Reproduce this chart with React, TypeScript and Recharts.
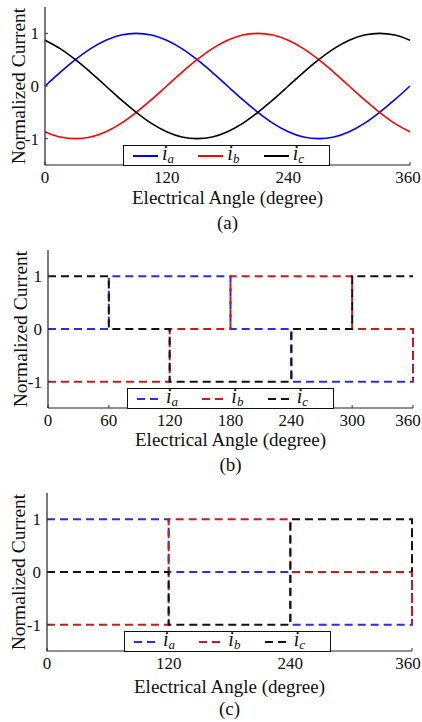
import React from 'react'
import { LineChart, Line, XAxis, YAxis, Legend } from 'recharts'

// (a) sinusoidal phase currents, read every 15 degrees
const sineAngles = [0, 15, 30, 45, 60, 75, 90, 105, 120, 135, 150, 165, 180, 195, 210, 225, 240, 255, 270, 285, 300, 315, 330, 345, 360]
const sineA = [0, 0.26, 0.5, 0.71, 0.87, 0.97, 1, 0.97, 0.87, 0.71, 0.5, 0.26, 0, -0.26, -0.5, -0.71, -0.87, -0.97, -1, -0.97, -0.87, -0.71, -0.5, -0.26, 0]
const sineB = [-0.87, -0.97, -1, -0.97, -0.87, -0.71, -0.5, -0.26, 0, 0.26, 0.5, 0.71, 0.87, 0.97, 1, 0.97, 0.87, 0.71, 0.5, 0.26, 0, -0.26, -0.5, -0.71, -0.87]
const sineC = [0.87, 0.71, 0.5, 0.26, 0, -0.26, -0.5, -0.71, -0.87, -0.97, -1, -0.97, -0.87, -0.71, -0.5, -0.26, 0, 0.26, 0.5, 0.71, 0.87, 0.97, 1, 0.97, 0.87]

// (b) 120-degree conduction steps
const sixStepAngles = [0, 60, 120, 180, 240, 300, 360]
const sixStepA = [0, 1, 1, 0, -1, -1, 0]
const sixStepB = [-1, -1, 0, 1, 1, 0, -1]
const sixStepC = [1, 0, -1, -1, 0, 1, 1]

// (c) block currents
const blockAngles = [0, 120, 240, 360]
const blockA = [1, 0, -1, 1]
const blockB = [-1, 1, 0, -1]
const blockC = [0, -1, 1, 0]

const yTicks = [-1, 0, 1]
const ticksThirds = [0, 120, 240, 360]
const ticksSixths = [0, 60, 120, 180, 240, 300, 360]

const SERIF = '"Liberation Serif", "Times New Roman", serif'

type Series = { key: string; sub: string; color: string }

const solidSeries: Series[] = [
  { key: 'ia', sub: 'a', color: '#0000ff' },
  { key: 'ib', sub: 'b', color: '#ff0000' },
  { key: 'ic', sub: 'c', color: '#000000' },
]
const dashedSeries: Series[] = [
  { key: 'ia', sub: 'a', color: '#2b2bf0' },
  { key: 'ib', sub: 'b', color: '#cc1a1a' },
  { key: 'ic', sub: 'c', color: '#111111' },
]

function buildRows(angles: number[], a: number[], b: number[], c: number[]) {
  return angles.map((angle, i) => ({ angle, ia: a[i], ib: b[i], ic: c[i] }))
}

// keeps the last label ("360") inside the page like the original
function AngleTick({ x, y, payload }: any) {
  const cx = Math.min(x, 408)
  return (
    <text x={cx} y={y} dy="0.71em" textAnchor="middle" fontFamily={SERIF} fontSize={17} fill="#111">
      {payload.value}
    </text>
  )
}

function LegendBox({ series, dashed, width }: { series: Series[]; dashed: boolean; width: number }) {
  return (
    <div
      style={{
        width,
        height: 21,
        boxSizing: 'border-box',
        border: '1.5px solid #111',
        background: '#fff',
        display: 'flex',
        alignItems: 'center',
        paddingLeft: 9,
        fontFamily: SERIF,
      }}
    >
      {series.map((s) => (
        <div key={s.key} style={{ display: 'flex', alignItems: 'center', width: 70 }}>
          <svg width={25} height={6}>
            <line x1={0} y1={3} x2={25} y2={3} stroke={s.color} strokeWidth={2} strokeDasharray={dashed ? '8 5' : undefined} />
          </svg>
          <span style={{ fontStyle: 'italic', fontSize: 20, lineHeight: '18px', marginLeft: 4, color: '#111' }}>
            i<sub style={{ fontSize: 13, verticalAlign: '-3px' }}>{s.sub}</sub>
          </span>
        </div>
      ))}
    </div>
  )
}

interface PanelProps {
  top: number
  left: number
  right: number
  plotTop: number
  plotBottom: number
  rows: { angle: number; ia: number; ib: number; ic: number }[]
  ticks: number[]
  step: boolean
  caption: string
  captionY: number
  xLabelBaseline: number
  yLabelX: number
  legendLeft: number
}

function Panel(p: PanelProps) {
  const width = 422
  const axisHeight = 50
  const height = p.plotBottom - p.top + axisHeight
  const series = p.step ? dashedSeries : solidSeries
  const tickStyle = { fontFamily: SERIF, fontSize: 17, fill: '#111' }
  return (
    <div style={{ position: 'absolute', left: 0, top: p.top, width, height }}>
      <LineChart
        width={width}
        height={height}
        data={p.rows}
        margin={{ top: p.plotTop - p.top, right: width - p.right, left: 0, bottom: 0 }}
      >
        <XAxis
          dataKey="angle"
          type="number"
          domain={[0, 360]}
          ticks={p.ticks}
          interval={0}
          height={axisHeight}
          tickSize={-3}
          tickMargin={9}
          tick={<AngleTick />}
          axisLine={{ stroke: '#222', strokeWidth: 1.2 }}
          tickLine={{ stroke: '#333' }}
          label={{
            value: 'Electrical Angle (degree)',
            position: 'insideBottom',
            offset: axisHeight - p.xLabelBaseline,
            style: { fontFamily: SERIF, fontSize: 19, fill: '#111' },
          }}
        />
        <XAxis
          xAxisId="top"
          orientation="top"
          type="number"
          domain={[0, 360]}
          ticks={p.ticks}
          interval={0}
          height={0}
          tickSize={-3}
          tickFormatter={() => ''}
          axisLine={{ stroke: '#666', strokeWidth: 1.2 }}
          tickLine={{ stroke: '#666' }}
        />
        <YAxis
          type="number"
          domain={[-1.5, 1.5]}
          ticks={yTicks}
          interval={0}
          width={p.left}
          tickSize={-3}
          tickMargin={9}
          tick={tickStyle}
          axisLine={{ stroke: '#222', strokeWidth: 1.2 }}
          tickLine={{ stroke: '#333' }}
          label={{
            value: 'Normalized Current',
            angle: -90,
            position: 'insideLeft',
            offset: p.yLabelX,
            style: { fontFamily: SERIF, fontSize: 19.5, fill: '#111', textAnchor: 'middle' },
          }}
        />
        <YAxis
          yAxisId="right"
          orientation="right"
          type="number"
          domain={[-1.5, 1.5]}
          ticks={yTicks}
          interval={0}
          width={0}
          tickSize={-3}
          tickFormatter={() => ''}
          axisLine={{ stroke: '#666', strokeWidth: 1.2 }}
          tickLine={{ stroke: '#666' }}
        />
        {series.map((s) => (
          <Line
            key={s.key}
            dataKey={s.key}
            type={p.step ? 'stepAfter' : 'monotone'}
            stroke={s.color}
            strokeWidth={p.step ? 2 : 1.6}
            strokeDasharray={p.step ? '8 5' : undefined}
            dot={false}
            activeDot={false}
            isAnimationActive={false}
          />
        ))}
        <Legend
          layout="horizontal"
          verticalAlign="middle"
          align="center"
          wrapperStyle={{ left: p.legendLeft, top: p.plotBottom - p.top - 20, width: 207, height: 21 }}
          content={() => <LegendBox series={series} dashed={p.step} width={207} />}
        />
      </LineChart>
      <div
        style={{
          position: 'absolute',
          left: p.left,
          width: p.right - p.left,
          top: p.captionY - p.top - 12,
          textAlign: 'center',
          fontFamily: SERIF,
          fontSize: 19,
          lineHeight: '20px',
          color: '#111',
        }}
      >
        {p.caption}
      </div>
    </div>
  )
}

export default function App() {
  return (
    <div style={{ position: 'absolute', left: 0, top: 0, width: 422, height: 722, background: '#fff', overflow: 'hidden' }}>
      <Panel
        top={0}
        left={45}
        right={410}
        plotTop={7}
        plotBottom={165}
        rows={buildRows(sineAngles, sineA, sineB, sineC)}
        ticks={ticksThirds}
        step={false}
        caption="(a)"
        captionY={225}
        xLabelBaseline={38.5}
        yLabelX={18.5}
        legendLeft={123}
      />
      <Panel
        top={242}
        left={48}
        right={413}
        plotTop={250}
        plotBottom={408}
        rows={buildRows(sixStepAngles, sixStepA, sixStepB, sixStepC)}
        ticks={ticksSixths}
        step={true}
        caption="(b)"
        captionY={467}
        xLabelBaseline={38}
        yLabelX={20}
        legendLeft={127}
      />
      <Panel
        top={484}
        left={47}
        right={412}
        plotTop={493}
        plotBottom={651}
        rows={buildRows(blockAngles, blockA, blockB, blockC)}
        ticks={ticksThirds}
        step={true}
        caption="(c)"
        captionY={711}
        xLabelBaseline={42}
        yLabelX={18.5}
        legendLeft={124}
      />
    </div>
  )
}
